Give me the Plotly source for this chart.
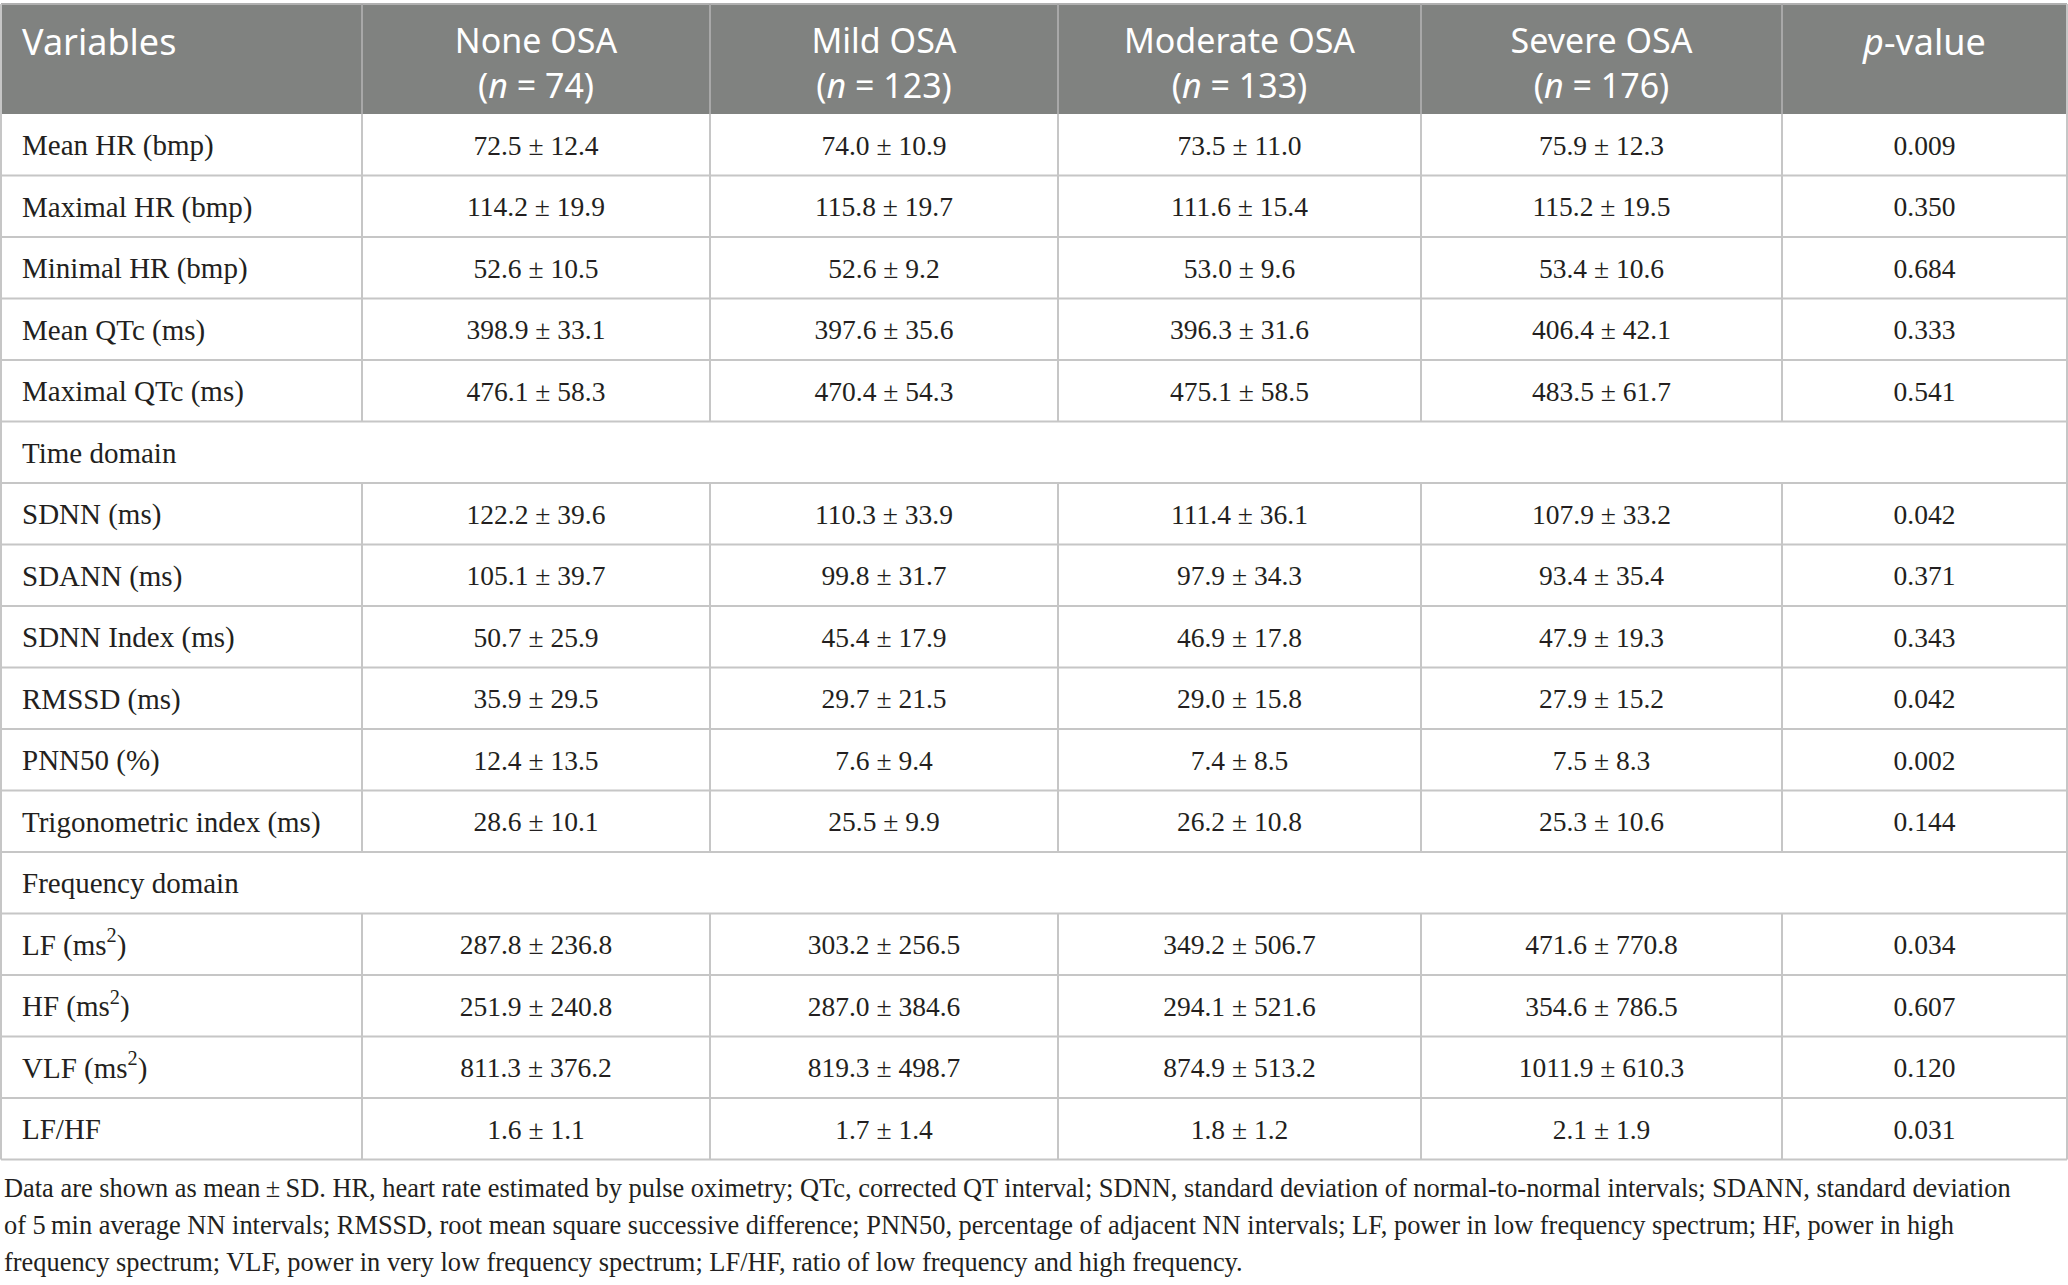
import plotly.graph_objects as go

# table content
variables = ["Mean HR (bmp)", "Maximal HR (bmp)", "Minimal HR (bmp)", "Mean QTc (ms)",
             "Maximal QTc (ms)", "Time domain", "SDNN (ms)", "SDANN (ms)", "SDNN Index (ms)",
             "RMSSD (ms)", "PNN50 (%)", "Trigonometric index (ms)", "Frequency domain",
             "LF (ms<sup>2</sup>)", "HF (ms<sup>2</sup>)", "VLF (ms<sup>2</sup>)", "LF/HF"]
section_rows = ["Time domain", "Frequency domain"]

group_names = ["None OSA", "Mild OSA", "Moderate OSA", "Severe OSA"]
group_n = [74, 123, 133, 176]

none_mean = [72.5, 114.2, 52.6, 398.9, 476.1, None, 122.2, 105.1, 50.7, 35.9, 12.4, 28.6, None, 287.8, 251.9, 811.3, 1.6]
none_sd = [12.4, 19.9, 10.5, 33.1, 58.3, None, 39.6, 39.7, 25.9, 29.5, 13.5, 10.1, None, 236.8, 240.8, 376.2, 1.1]
mild_mean = [74.0, 115.8, 52.6, 397.6, 470.4, None, 110.3, 99.8, 45.4, 29.7, 7.6, 25.5, None, 303.2, 287.0, 819.3, 1.7]
mild_sd = [10.9, 19.7, 9.2, 35.6, 54.3, None, 33.9, 31.7, 17.9, 21.5, 9.4, 9.9, None, 256.5, 384.6, 498.7, 1.4]
moderate_mean = [73.5, 111.6, 53.0, 396.3, 475.1, None, 111.4, 97.9, 46.9, 29.0, 7.4, 26.2, None, 349.2, 294.1, 874.9, 1.8]
moderate_sd = [11.0, 15.4, 9.6, 31.6, 58.5, None, 36.1, 34.3, 17.8, 15.8, 8.5, 10.8, None, 506.7, 521.6, 513.2, 1.2]
severe_mean = [75.9, 115.2, 53.4, 406.4, 483.5, None, 107.9, 93.4, 47.9, 27.9, 7.5, 25.3, None, 471.6, 354.6, 1011.9, 2.1]
severe_sd = [12.3, 19.5, 10.6, 42.1, 61.7, None, 33.2, 35.4, 19.3, 15.2, 8.3, 10.6, None, 770.8, 786.5, 610.3, 1.9]
p_values = [0.009, 0.350, 0.684, 0.333, 0.541, None, 0.042, 0.371, 0.343, 0.042, 0.002, 0.144, None, 0.034, 0.607, 0.120, 0.031]

footnote = [
    "Data are shown as mean\u2009\u00b1\u2009SD. HR, heart rate estimated by pulse oximetry; QTc, corrected QT interval; SDNN, standard deviation of normal-to-normal intervals; SDANN, standard deviation",
    "of 5\u2009min average NN intervals; RMSSD, root mean square successive difference; PNN50, percentage of adjacent NN intervals; LF, power in low frequency spectrum; HF, power in high",
    "frequency spectrum; VLF, power in very low frequency spectrum; LF/HF, ratio of low frequency and high frequency.",
]

# layout in pixel units
W, H = 2068, 1285
edges = [1, 362, 710, 1058, 1421, 1782, 2067]
head_top, head_bot = 4, 114
row_h = 61.5
grid = "#c6c6c6"
head_bg = "#808280"
ink = "#231f20"
serif = "Liberation Serif"
sans = "Noto Sans"

n_rows = len(variables)
row_top = [head_bot + i * row_h for i in range(n_rows)]
row_mid = [t + row_h / 2 + 3 for t in row_top]
centers = [(edges[i] + edges[i + 1]) / 2 for i in range(len(edges) - 1)]
data_rows = [i for i, v in enumerate(variables) if v not in section_rows]


def fmt(m, s):
    return f"{m:.1f} \u00b1 {s:.1f}"


cols = [
    [fmt(none_mean[i], none_sd[i]) for i in data_rows],
    [fmt(mild_mean[i], mild_sd[i]) for i in data_rows],
    [fmt(moderate_mean[i], moderate_sd[i]) for i in data_rows],
    [fmt(severe_mean[i], severe_sd[i]) for i in data_rows],
    [f"{p_values[i]:.3f}" for i in data_rows],
]

fig = go.Figure()

shapes = []
# header band
shapes.append(dict(type="rect", x0=edges[0], x1=edges[-1], y0=head_top, y1=head_bot,
                   fillcolor=head_bg, line=dict(width=0), layer="below"))
shapes.append(dict(type="line", x0=edges[0], x1=edges[-1], y0=head_top, y1=head_top,
                   line=dict(color="#b0b0b0", width=2)))
for x in edges[1:-1]:
    shapes.append(dict(type="line", x0=x, x1=x, y0=head_top, y1=head_bot,
                       line=dict(color="#a8a8a8", width=2)))
# outer verticals
for x in (edges[0], edges[-1]):
    shapes.append(dict(type="line", x0=x, x1=x, y0=head_top, y1=row_top[-1] + row_h,
                       line=dict(color=grid, width=2)))
# row lines and inner verticals
for i, name in enumerate(variables):
    shapes.append(dict(type="line", x0=edges[0], x1=edges[-1], y0=row_top[i] + row_h,
                       y1=row_top[i] + row_h, line=dict(color=grid, width=2)))
    if name not in section_rows:
        for x in edges[1:-1]:
            shapes.append(dict(type="line", x0=x, x1=x, y0=row_top[i], y1=row_top[i] + row_h,
                               line=dict(color=grid, width=2)))

head_font = dict(family=sans, size=36, color="white")
# header text
fig.add_trace(go.Scatter(x=[22], y=[46], text=["Variables"], mode="text",
                         textposition="middle right", textfont=head_font, hoverinfo="skip"))
fig.add_trace(go.Scatter(x=centers[1:5], y=[67] * 4,
                         text=[f"{g}<br>(<i>n</i> = {n})" for g, n in zip(group_names, group_n)],
                         mode="text", textfont=dict(family=sans, size=34, color="white"),
                         hoverinfo="skip"))
fig.add_trace(go.Scatter(x=[centers[5]], y=[46], text=["<i>p</i>-value"], mode="text",
                         textfont=head_font, hoverinfo="skip"))

# body text
fig.add_trace(go.Scatter(x=[22] * n_rows, y=row_mid, text=variables, mode="text",
                         textposition="middle right",
                         textfont=dict(family=serif, size=29, color=ink), hoverinfo="skip"))
for j, col in enumerate(cols):
    fig.add_trace(go.Scatter(x=[centers[j + 1]] * len(data_rows), y=[row_mid[i] for i in data_rows],
                             text=col, mode="text",
                             textfont=dict(family=serif, size=27.5, color=ink), hoverinfo="skip"))

annotations = []
for k, line in enumerate(footnote):
    annotations.append(dict(x=2, y=1188 + k * 37, xref="x", yref="y", text=line,
                            showarrow=False, xanchor="left", yanchor="middle",
                            font=dict(family=serif, size=26.4, color=ink)))

fig.update_layout(
    width=W, height=H,
    margin=dict(l=0, r=0, t=0, b=0),
    plot_bgcolor="white", paper_bgcolor="white",
    showlegend=False,
    shapes=shapes,
    annotations=annotations,
    xaxis=dict(range=[0, W], visible=False, fixedrange=True),
    yaxis=dict(range=[H, 0], visible=False, fixedrange=True),
)

fig.write_html("out.html", config={"displayModeBar": False},
               post_script="document.body.style.margin='0';")
